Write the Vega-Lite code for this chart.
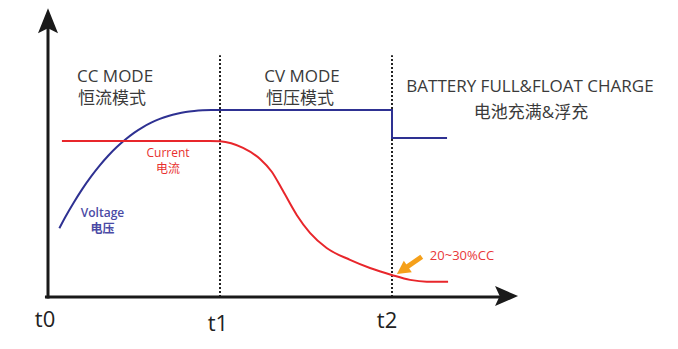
{
  "$schema": "https://vega.github.io/schema/vega-lite/v6.json",
  "width": 473,
  "height": 290,
  "autosize": {"type": "none"},
  "padding": {"left": 48, "top": 7, "right": 157, "bottom": 52},
  "background": "white",
  "config": {"view": {"stroke": null}},
  "datasets": {
    "voltage": [
      {"t": 0.066, "v": 23.7}, {"t": 0.1, "v": 27.5}, {"t": 0.15, "v": 32.6},
      {"t": 0.2, "v": 37.3}, {"t": 0.25, "v": 41.5}, {"t": 0.3, "v": 45.3},
      {"t": 0.35, "v": 48.7}, {"t": 0.4, "v": 51.7}, {"t": 0.45, "v": 54.3},
      {"t": 0.5, "v": 56.6}, {"t": 0.55, "v": 58.5}, {"t": 0.6, "v": 60.1},
      {"t": 0.65, "v": 61.4}, {"t": 0.7, "v": 62.4}, {"t": 0.75, "v": 63.2},
      {"t": 0.8, "v": 63.8}, {"t": 0.85, "v": 64.16}, {"t": 0.9, "v": 64.38},
      {"t": 0.95, "v": 64.48}, {"t": 1.0, "v": 64.5}
    ],
    "voltageStep": [
      {"t": 1.0, "v": 64.5}, {"t": 2.0, "v": 64.5}, {"t": 2.0, "v": 54.8}, {"t": 2.32, "v": 54.8}
    ],
    "current": [
      {"t": 0.081, "v": 53.8}, {"t": 0.5, "v": 53.8}, {"t": 0.94, "v": 53.8},
      {"t": 1.0, "v": 53.7}, {"t": 1.134, "v": 51.4}, {"t": 1.233, "v": 47.6},
      {"t": 1.301, "v": 43.2}, {"t": 1.366, "v": 36.6}, {"t": 1.446, "v": 28.3},
      {"t": 1.523, "v": 22.1}, {"t": 1.62, "v": 16.9}, {"t": 1.756, "v": 12.8},
      {"t": 1.872, "v": 10.0}, {"t": 1.998, "v": 7.6}, {"t": 2.105, "v": 5.9},
      {"t": 2.202, "v": 5.3}, {"t": 2.326, "v": 5.3}
    ],
    "axes": [
      {"t": -0.009, "v": 0, "t2": 2.63, "v2": 0},
      {"t": 0, "v": 0, "t2": 0, "v2": 92.8}
    ],
    "dotted": [
      {"t": 1, "v": 0, "v2": 83.4},
      {"t": 2, "v": 0, "v2": 83.4}
    ],
    "yArrow": [{"t": 0, "v": 95.3}],
    "xArrow": [{"t": 2.666, "v": 0.34}],
    "shaft": [{"t": 2.173, "v": 13.9, "t2": 2.07, "v2": 9.66}],
    "head": [{"t": 2.062, "v": 9.3}],
    "modes": [
      {"t": 0.39, "v": 74.1, "label": "CC MODE"},
      {"t": 0.372, "v": 66.6, "label": "恒流模式"},
      {"t": 1.477, "v": 74.1, "label": "CV MODE"},
      {"t": 1.465, "v": 66.6, "label": "恒压模式"},
      {"t": 2.802, "v": 70.7, "label": "BATTERY FULL&FLOAT CHARGE"},
      {"t": 2.808, "v": 61.7, "label": "电池充满&浮充"}
    ],
    "ticks": [
      {"t": -0.017, "v": -10.3, "label": "t0"},
      {"t": 0.988, "v": -11.7, "label": "t1"},
      {"t": 1.971, "v": -10.7, "label": "t2"}
    ],
    "currentLabel": [
      {"t": 0.698, "v": 48.3, "label": "Current"},
      {"t": 0.698, "v": 42.9, "label": "电流"}
    ],
    "voltageLabel": [
      {"t": 0.317, "v": 27.6, "label": "Voltage"},
      {"t": 0.317, "v": 21.9, "label": "电压"}
    ],
    "ccLabel": [
      {"t": 2.407, "v": 12.8, "label": "20~30%CC"}
    ]
  },
  "encoding": {
    "x": {"field": "t", "type": "quantitative", "scale": {"domain": [0, 2.75], "nice": false, "zero": false}, "axis": null},
    "y": {"field": "v", "type": "quantitative", "scale": {"domain": [0, 100], "nice": false, "zero": false}, "axis": null}
  },
  "layer": [
    {
      "data": {"name": "dotted"},
      "mark": {"type": "rule", "color": "#222222", "strokeWidth": 2, "strokeDash": [2, 2]},
      "encoding": {"y2": {"field": "v2"}}
    },
    {
      "data": {"name": "axes"},
      "mark": {"type": "rule", "color": "#1a1a1a", "strokeWidth": 3, "strokeCap": "square"},
      "encoding": {"x2": {"field": "t2"}, "y2": {"field": "v2"}}
    },
    {
      "data": {"name": "yArrow"},
      "mark": {"type": "point", "shape": "M0,-1L0.8,1L0,0.6L-0.8,1Z", "size": 625, "filled": true, "color": "#1a1a1a", "opacity": 1}
    },
    {
      "data": {"name": "xArrow"},
      "mark": {"type": "point", "shape": "M1,0L-1,0.87L-0.6,0L-1,-0.87Z", "size": 529, "filled": true, "color": "#1a1a1a", "opacity": 1}
    },
    {
      "data": {"name": "voltage"},
      "mark": {"type": "line", "color": "#2e3192", "strokeWidth": 2, "interpolate": "monotone"}
    },
    {
      "data": {"name": "voltageStep"},
      "mark": {"type": "line", "color": "#2e3192", "strokeWidth": 2, "interpolate": "linear"}
    },
    {
      "data": {"name": "current"},
      "mark": {"type": "line", "color": "#e8262b", "strokeWidth": 2, "interpolate": "monotone"}
    },
    {
      "data": {"name": "shaft"},
      "mark": {"type": "rule", "color": "#f5a01a", "strokeWidth": 5},
      "encoding": {"x2": {"field": "t2"}, "y2": {"field": "v2"}}
    },
    {
      "data": {"name": "head"},
      "mark": {"type": "point", "shape": "M0,-1L1,0.9L-1,0.9Z", "size": 196, "angle": 235, "filled": true, "color": "#f5a01a", "opacity": 1}
    },
    {
      "data": {"name": "modes"},
      "mark": {"type": "text", "font": "'Open Sans', 'Noto Sans CJK SC'", "fontSize": 17, "color": "#3a3a3a", "align": "center", "baseline": "alphabetic"},
      "encoding": {"text": {"field": "label"}}
    },
    {
      "data": {"name": "ticks"},
      "mark": {"type": "text", "font": "'Open Sans'", "fontSize": 22, "color": "#222222", "align": "center", "baseline": "alphabetic"},
      "encoding": {"text": {"field": "label"}}
    },
    {
      "data": {"name": "currentLabel"},
      "mark": {"type": "text", "font": "'Open Sans', 'Noto Sans CJK SC'", "fontSize": 12, "color": "#e8302f", "align": "center", "baseline": "alphabetic"},
      "encoding": {"text": {"field": "label"}}
    },
    {
      "data": {"name": "voltageLabel"},
      "mark": {"type": "text", "font": "'Open Sans', 'Noto Sans CJK SC'", "fontSize": 12, "fontWeight": 600, "color": "#4a4aa5", "align": "center", "baseline": "alphabetic"},
      "encoding": {"text": {"field": "label"}}
    },
    {
      "data": {"name": "ccLabel"},
      "mark": {"type": "text", "font": "'Open Sans'", "fontSize": 13, "color": "#e8383a", "align": "center", "baseline": "alphabetic"},
      "encoding": {"text": {"field": "label"}}
    }
  ]
}
